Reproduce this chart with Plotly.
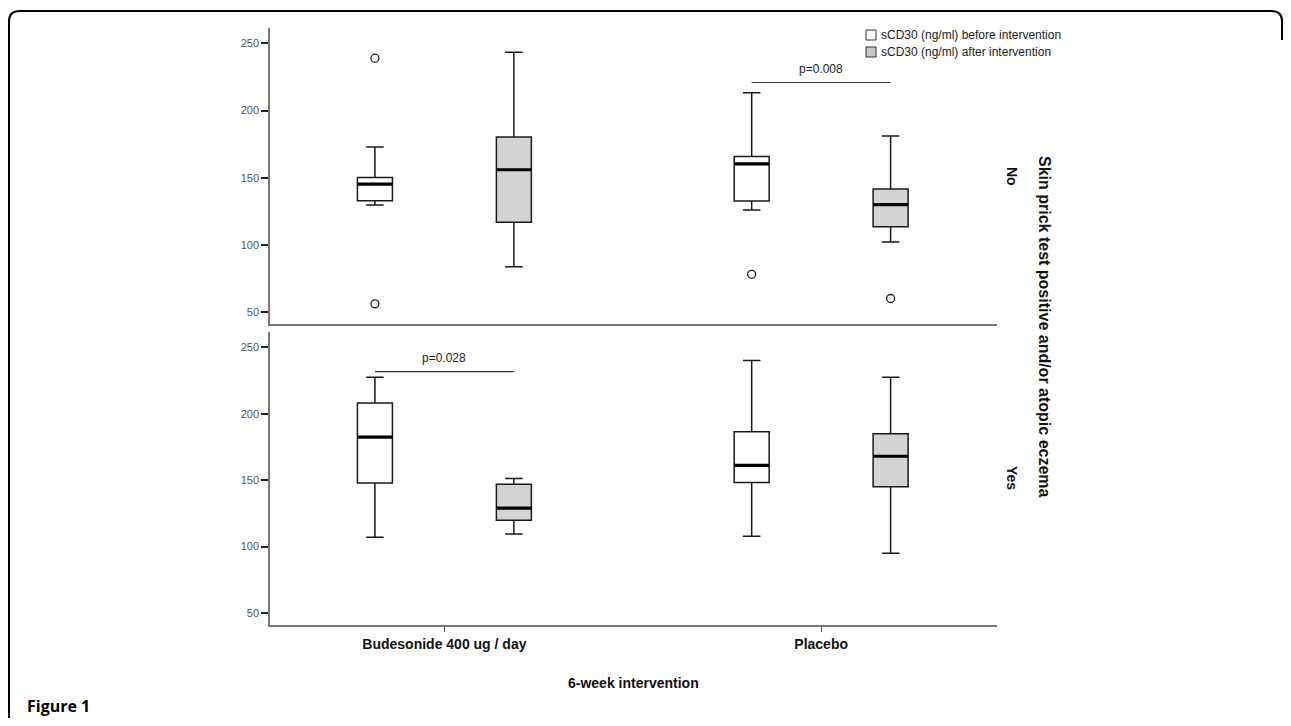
import plotly.graph_objects as go

# ---------------- data ----------------
groups = ["Budesonide 400 ug / day", "Placebo"]
series_names = ["sCD30 (ng/ml) before intervention", "sCD30 (ng/ml) after intervention"]
panel_labels = ["No", "Yes"]

# Skin prick test positive and/or atopic eczema = No
no_before_low = [129.7, 126.0]
no_before_q1 = [132.9, 132.7]
no_before_med = [145.2, 160.3]
no_before_q3 = [150.1, 165.8]
no_before_high = [172.8, 213.2]
no_before_out = [[56.0, 239.0], [78.0]]

no_after_low = [83.6, 102.0]
no_after_q1 = [116.8, 113.5]
no_after_med = [155.9, 130.0]
no_after_q3 = [180.3, 141.5]
no_after_high = [243.5, 181.0]
no_after_out = [[], [60.0]]

# = Yes
yes_before_low = [107.0, 107.8]
yes_before_q1 = [147.9, 148.2]
yes_before_med = [182.4, 161.2]
yes_before_q3 = [208.0, 186.4]
yes_before_high = [227.5, 240.0]
yes_before_out = [[], []]

yes_after_low = [109.5, 95.0]
yes_after_q1 = [119.9, 145.0]
yes_after_med = [128.9, 168.0]
yes_after_q3 = [146.9, 185.0]
yes_after_high = [151.2, 227.5]
yes_after_out = [[], []]

# significance brackets
p_labels = ["p=0.008", "p=0.028"]
p_panels = ["No", "Yes"]
p_groups = [1, 0]
p_heights = [220.9, 231.7]

y_ticks = [50, 100, 150, 200, 250]

# ---------------- layout geometry ----------------
W, H = 1275, 710
L, R, T, B = 262, 286, 20, 93
pw, ph = W - L - R, H - T - B
OFF = 8  # body margin of the html page


def pp(x, y):
    """page pixel -> paper coords"""
    fx, fy = x - OFF, y - OFF
    return (fx - L) / pw, (H - B - fy) / ph


top_dom = [1 - 296 / ph, 1]
bot_dom = [0, 1 - 304 / ph]

d = 0.1844      # offset of before/after boxes from cluster centre
bw = 0.0929     # box width (data units)
fills = ["white", "#d3d3d3"]

fig = go.Figure()

panels = {
    "No": ("x", "y", [
        (no_before_low, no_before_q1, no_before_med, no_before_q3, no_before_high, no_before_out),
        (no_after_low, no_after_q1, no_after_med, no_after_q3, no_after_high, no_after_out)]),
    "Yes": ("x2", "y2", [
        (yes_before_low, yes_before_q1, yes_before_med, yes_before_q3, yes_before_high, yes_before_out),
        (yes_after_low, yes_after_q1, yes_after_med, yes_after_q3, yes_after_high, yes_after_out)]),
}

for pname, (xa, ya, sets) in panels.items():
    for s, (lo, q1, med, q3, hi, outs) in enumerate(sets):
        offs = -d if s == 0 else d
        for g in range(len(groups)):
            xpos = g + offs
            fig.add_trace(go.Box(
                x=[xpos], q1=[q1[g]], median=[med[g]], q3=[q3[g]],
                lowerfence=[lo[g]], upperfence=[hi[g]],
                width=bw, whiskerwidth=0.5,
                fillcolor=fills[s], line=dict(color="#1a1a1a", width=1.5),
                boxpoints=False, showlegend=False, hoverinfo="skip",
                xaxis=xa, yaxis=ya))
            fig.add_trace(go.Scatter(
                x=[xpos - bw / 2, xpos + bw / 2], y=[med[g], med[g]],
                mode="lines", line=dict(color="black", width=3.2),
                showlegend=False, hoverinfo="skip", xaxis=xa, yaxis=ya))
            if outs[g]:
                fig.add_trace(go.Scatter(
                    x=[xpos] * len(outs[g]), y=outs[g], mode="markers",
                    marker=dict(symbol="circle-open", size=8, color="#222",
                                line=dict(width=1.3)),
                    showlegend=False, hoverinfo="skip", xaxis=xa, yaxis=ya))

shapes = []
annotations = []

for lab, pn, g, h in zip(p_labels, p_panels, p_groups, p_heights):
    xa, ya, _ = panels[pn]
    shapes.append(dict(type="line", xref=xa, yref=ya, x0=g - d, x1=g + d, y0=h, y1=h,
                       line=dict(color="#333", width=1.2)))
    annotations.append(dict(x=g, y=h, xref=xa, yref=ya, text=lab, showarrow=False,
                            yanchor="middle", yshift=14,
                            font=dict(family="Liberation Sans, Arial", size=12, color="#222")))

# legend (manual)
for i, name in enumerate(series_names):
    y0 = 30 + i * 17
    x0p, y0p = pp(866, y0)
    x1p, y1p = pp(876, y0 + 10)
    shapes.append(dict(type="rect", xref="paper", yref="paper", x0=x0p, x1=x1p, y0=y0p, y1=y1p,
                       fillcolor="white" if i == 0 else "#c8c8c8",
                       line=dict(color="#333", width=1)))
    tx, ty = pp(879, y0 + 5)
    annotations.append(dict(x=tx, y=ty, xref="paper", yref="paper", text=name, showarrow=False,
                            xanchor="left", yanchor="middle",
                            font=dict(family="Liberation Sans, Arial", size=12, color="#222")))

# panel labels (right)
for lab, yc in zip(panel_labels, [176, 478]):
    ax_, ay_ = pp(1012, yc)
    annotations.append(dict(x=ax_, y=ay_, xref="paper", yref="paper", text="<b>%s</b>" % lab,
                            showarrow=False, textangle=90, xanchor="center", yanchor="middle",
                            font=dict(family="Liberation Sans, Arial", size=14, color="#111")))
ax_, ay_ = pp(1045, 327)
annotations.append(dict(x=ax_, y=ay_, xref="paper", yref="paper",
                        text="<b>Skin prick test positive and/or atopic eczema</b>",
                        showarrow=False, textangle=90, xanchor="center", yanchor="middle",
                        font=dict(family="Liberation Sans, Arial", size=16, color="#111")))

# x-axis title
ax_, ay_ = pp(633, 683)
annotations.append(dict(x=ax_, y=ay_, xref="paper", yref="paper", text="<b>6-week intervention</b>",
                        showarrow=False, xanchor="center", yanchor="middle",
                        font=dict(family="Liberation Sans, Arial", size=14, color="#111")))

# Figure caption
ax_, ay_ = pp(25, 706)
annotations.append(dict(x=ax_, y=ay_, xref="paper", yref="paper", text="<b>Figure 1</b>",
                        showarrow=False, xanchor="left", yanchor="middle",
                        font=dict(family="Open Sans, Noto Sans", size=16, color="#000")))

# outer frame
a = pp(9, 726); b = pp(9, 21); c = pp(9, 11); e = pp(20, 11)
f = pp(1271, 11); g_ = pp(1282, 11); h_ = pp(1282, 21); k = pp(1282, 40)
path = "M %f,%f L %f,%f Q %f,%f %f,%f L %f,%f Q %f,%f %f,%f L %f,%f" % (
    a[0], a[1], b[0], b[1], c[0], c[1], e[0], e[1], f[0], f[1], g_[0], g_[1], h_[0], h_[1], k[0], k[1])
shapes.append(dict(type="path", xref="paper", yref="paper", path=path,
                   line=dict(color="black", width=2)))

xr = [-0.4629, 1.4668]
yr = [41.0, 261.5]
yax = dict(range=yr, tickvals=y_ticks, ticks="outside", ticklen=7, tickwidth=2, tickcolor="#222",
           showline=True, linecolor="#777", linewidth=1.5, showgrid=False, zeroline=False,
           tickfont=dict(family="Liberation Sans, Arial", size=11, color="#555"))

fig.update_layout(
    width=W, height=H, margin=dict(l=L, r=R, t=T, b=B),
    paper_bgcolor="white", plot_bgcolor="white",
    xaxis=dict(domain=[0, 1], range=xr, anchor="y", showline=True, linecolor="#777", linewidth=1.5,
               showticklabels=False, ticks="", showgrid=False, zeroline=False),
    xaxis2=dict(domain=[0, 1], range=xr, anchor="y2", showline=True, linecolor="#777", linewidth=1.5,
                tickvals=[0, 1], ticktext=["<b>%s</b>" % gname for gname in groups],
                ticks="outside", ticklen=5, tickwidth=1, tickcolor="#555",
                showgrid=False, zeroline=False,
                tickfont=dict(family="Liberation Sans, Arial", size=14, color="#111")),
    yaxis=dict(domain=top_dom, anchor="x", **yax),
    yaxis2=dict(domain=bot_dom, anchor="x2", **yax),
    shapes=shapes, annotations=annotations, showlegend=False,
)

fig.write_html("out.html")
